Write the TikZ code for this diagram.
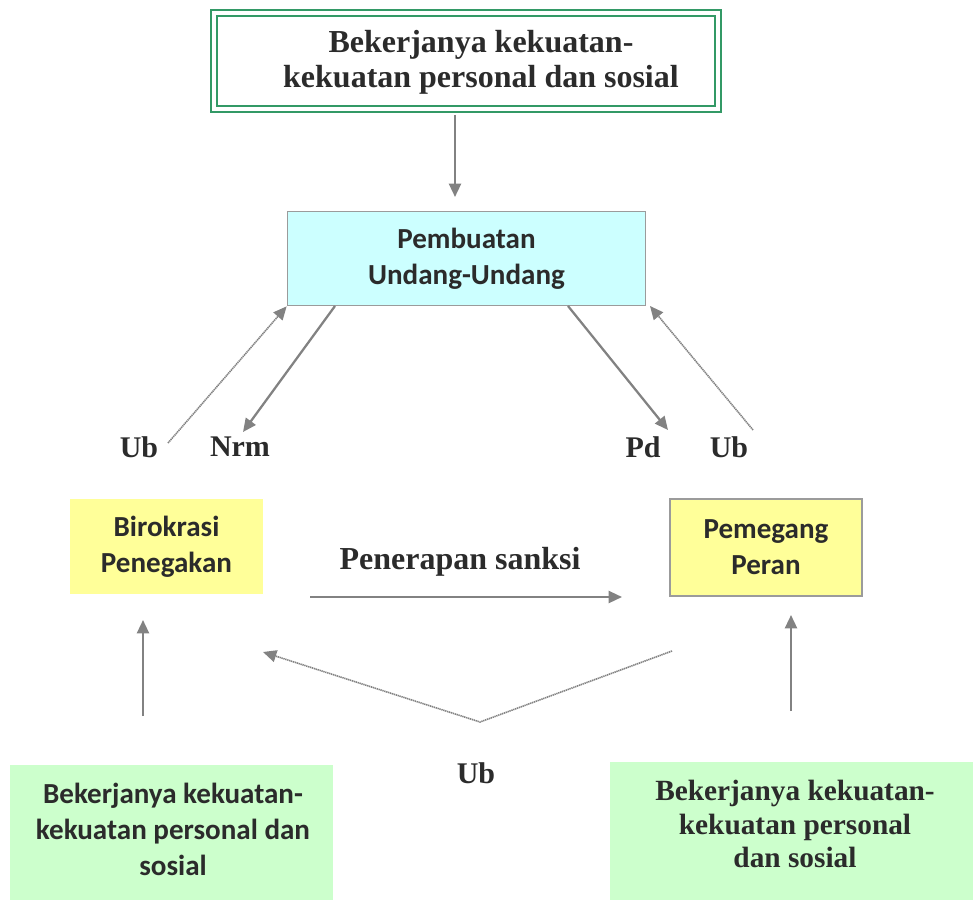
\documentclass[tikz,border=0pt]{standalone}
\usepackage{fontspec}
\setmainfont{Liberation Serif}
\newfontfamily\carlito{Carlito}
\usetikzlibrary{arrows.meta,calc}
\definecolor{txt}{HTML}{2B2B2B}
\definecolor{arr}{HTML}{828282}
\definecolor{grn}{HTML}{339966}
\definecolor{cyanbox}{HTML}{CCFFFF}
\definecolor{yelbox}{HTML}{FFFF99}
\definecolor{grnbox}{HTML}{CCFFCC}
\begin{document}
\begin{tikzpicture}[x=0.75pt,y=-0.75pt,
  tip/.style={-{Triangle[length=10pt,width=9pt]}},
  conn/.style={draw=arr, line width=1.7pt, tip},
  dotconn/.style={draw=arr, line width=1.2pt, dash pattern=on 1pt off 0.5pt, tip},
  serifbig/.style={font=\fontsize{24}{26}\selectfont\bfseries, text=txt, align=center},
  serifmid/.style={font=\fontsize{22}{25}\selectfont\bfseries, text=txt, align=center},
  sanstxt/.style={font=\carlito\fontsize{21.8}{27}\selectfont\bfseries, text=txt, align=center},
  lbl/.style={font=\fontsize{22.5}{24}\selectfont\bfseries, text=txt, inner sep=0pt},
  boxbase/.style={rectangle, inner sep=0pt}
]
\useasboundingbox (0,0) rectangle (973,902);

% top box
\node[boxbase, draw=grn, line width=1.5pt, double=white, double distance=3pt,
      minimum width=378pt, minimum height=72pt] (topbox) at (466,61) {};
\node[serifbig] (toptxt) at (481,62) {Bekerjanya kekuatan-\\kekuatan personal dan sosial};

% law making
\node[boxbase, draw=arr!80, line width=0.8pt, fill=cyanbox, sanstxt,
      minimum width=269pt, minimum height=71pt] (pu) at (466.5,258.5) {Pembuatan\\Undang-Undang};

% yellow boxes
\node[boxbase, fill=yelbox, sanstxt, minimum width=144.75pt, minimum height=71.25pt] (bir) at (166.5,546.5) {Birokrasi\\Penegakan};
\node[boxbase, draw=arr!80, line width=0.8pt, fill=yelbox, sanstxt, minimum width=144pt, minimum height=72.75pt] (pp) at (766,547.5) {Pemegang\\Peran};

% green bottom boxes
\node[boxbase, fill=grnbox, minimum width=242.25pt, minimum height=101.25pt] (bl) at (171.5,832.5) {};
\node[sanstxt] (bltxt) at (173,829) {Bekerjanya kekuatan-\\kekuatan personal dan\\sosial};
\node[boxbase, fill=grnbox, minimum width=272.25pt, minimum height=103.5pt] (br) at (791.5,831) {};
\node[serifmid] (brtxt) at (795,824) {Bekerjanya kekuatan-\\kekuatan personal\\dan sosial};

% labels
\node[lbl] (ub1) at (139,447) {Ub};
\node[lbl] (nrm) at (240,447) {Nrm};
\node[lbl] (pd) at (643,447) {Pd};
\node[lbl] (ub2) at (729,447) {Ub};
\node[lbl] (ub3) at (476,773) {Ub};
\node[serifbig] (sanksi) at (460,562) {Penerapan sanksi};

% helper coordinates
\coordinate (t1) at (455,115);
\coordinate (t2) at (455,197);
\coordinate (u1) at (168,443);
\coordinate (n1) at (335,306);
\coordinate (n2) at (243,432);
\coordinate (p1) at (568,306);
\coordinate (p2) at (668,430);
\coordinate (u2) at (753,430);
\coordinate (u2e) at (650,306);
\coordinate (s1) at (310,597);
\coordinate (s2) at (622,597);
\coordinate (l1) at (143,716);
\coordinate (l2) at (143,620);
\coordinate (r1) at (791,711);
\coordinate (r2) at (791,615);
\coordinate (v1) at (672,651);
\coordinate (v2) at (480,722);
\coordinate (v3) at (263,652);

% connectors
\draw[conn] (t1) -- (t2);
\draw[dotconn] (u1) -- (pu.south west);
\draw[conn] (n1) -- (n2);
\draw[conn] (p1) -- (p2);
\draw[dotconn] (u2) -- (u2e);
\draw[conn] (s1) -- (s2);
\draw[conn] (l1) -- (l2);
\draw[conn] (r1) -- (r2);
\draw[dotconn] (v1) -- (v2) -- (v3);
\end{tikzpicture}
\end{document}
